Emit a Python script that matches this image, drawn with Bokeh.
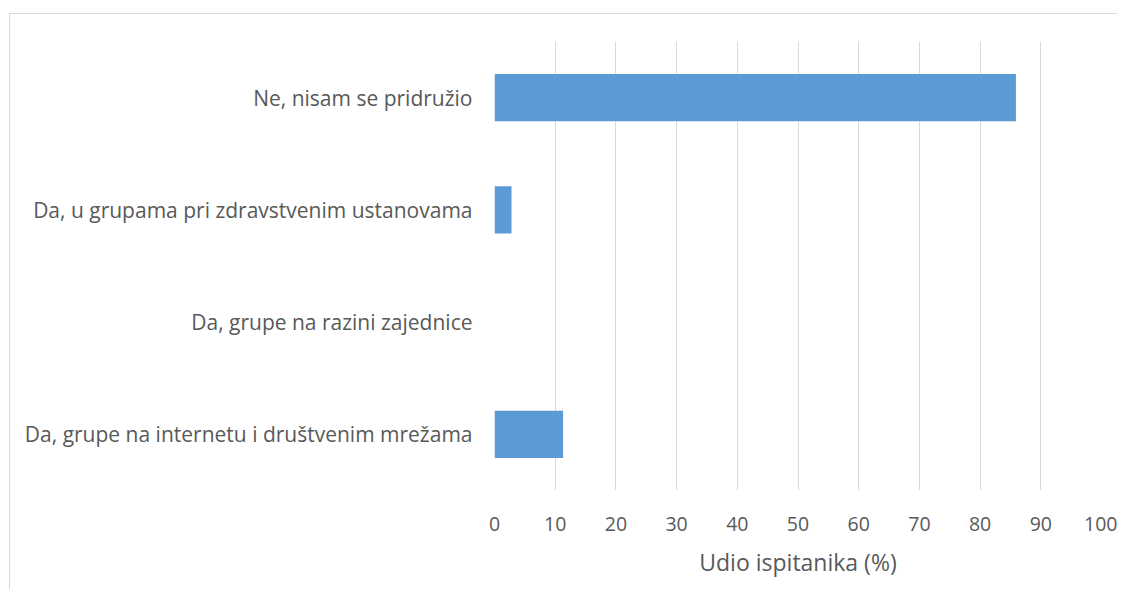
from bokeh.plotting import figure
from bokeh.models import FixedTicker, Range1d
from bokeh.embed import file_html
from bokeh.resources import INLINE

categories = [
    "Da, grupe na internetu i društvenim mrežama",
    "Da, grupe na razini zajednice",
    "Da, u grupama pri zdravstvenim ustanovama",
    "Ne, nisam se pridružio",
]
values = [11.3, 0.0, 2.8, 85.9]
x_ticks = [0, 10, 20, 30, 40, 50, 60, 70, 80, 90, 100]
x_label = "Udio ispitanika (%)"

FONT = "Open Sans"
TXT = "#595959"

p = figure(
    y_range=categories,
    x_range=Range1d(0, 100),
    width=1108, height=576,
    output_backend="svg", toolbar_location=None,
    min_border_left=484, min_border_right=17,
    min_border_top=27, min_border_bottom=100,
)
p.margin = (13, 0, 0, 9)
p.styles = {"border-top": "1px solid #d9d9d9", "border-left": "1px solid #d9d9d9"}

p.hbar(y=categories, right=values, left=0, height=0.42,
       fill_color="#5B9BD5", line_color=None)

p.outline_line_color = None
p.background_fill_color = "white"
p.border_fill_color = "white"

p.ygrid.grid_line_color = None
p.xgrid.grid_line_color = "#D9D9D9"
p.xgrid.grid_line_width = 1

p.xaxis.ticker = FixedTicker(ticks=x_ticks)
p.xaxis.axis_line_color = None
p.xaxis.major_tick_line_color = None
p.xaxis.minor_tick_line_color = None
p.xaxis.major_label_text_font = FONT
p.xaxis.major_label_text_font_size = "19.5px"
p.xaxis.major_label_text_color = TXT
p.xaxis.major_label_standoff = 20
p.xaxis.axis_label = x_label
p.xaxis.axis_label_text_font = FONT
p.xaxis.axis_label_text_font_size = "23px"
p.xaxis.axis_label_text_font_style = "normal"
p.xaxis.axis_label_text_color = TXT
p.xaxis.axis_label_standoff = 12

p.yaxis.axis_line_color = None
p.yaxis.major_tick_line_color = None
p.yaxis.minor_tick_line_color = None
p.yaxis.major_label_text_font = FONT
p.yaxis.major_label_text_font_size = "21px"
p.yaxis.major_label_text_color = TXT
p.yaxis.major_label_standoff = 16

open("out.html", "w").write(file_html(p, INLINE))
